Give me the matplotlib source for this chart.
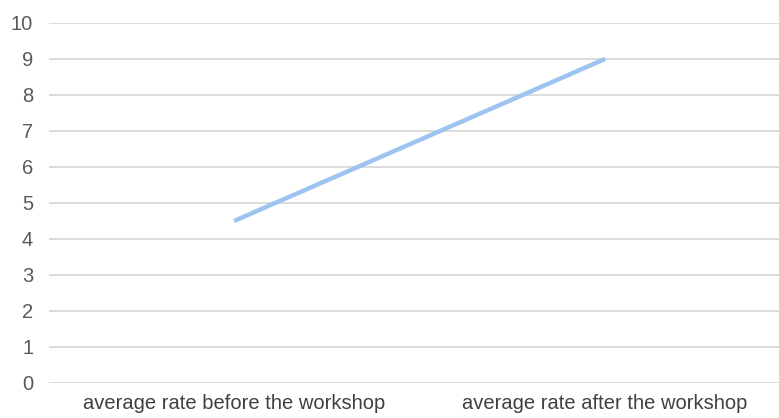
import matplotlib
matplotlib.use("Agg")
import matplotlib.pyplot as plt

categories = ["average rate before the workshop", "average rate after the workshop"]
values = [4.5, 9.0]
yticks = list(range(0, 11))

plt.rcParams['font.family'] = ['Liberation Sans', 'DejaVu Sans']

fig = plt.figure(figsize=(7.79, 4.18), dpi=100)
ax = fig.add_axes([48.5/779, 35/418, 1 - 48.5/779, 360/418])
x = list(range(len(categories)))
ax.plot(x, values, color='#9dc3f0', linewidth=3.2, solid_capstyle='butt', zorder=3)
ax.set_xlim(-0.5, 1 + (779 - 605) / 371)
ax.set_ylim(0, 10)
ax.set_yticks(yticks)
ax.set_xticks(x)
ax.set_xticklabels(categories)
ax.grid(axis='y', color='#d9d9d9', linewidth=1.3)
ax.set_axisbelow(True)
for s in ax.spines.values():
    s.set_visible(False)
ax.tick_params(axis='y', length=0, pad=11, labelsize=14.5, labelcolor='#595959')
ax.tick_params(axis='x', length=0, pad=8, labelsize=14.5, labelcolor='#404040')
fig.savefig("out.png", dpi=100)
